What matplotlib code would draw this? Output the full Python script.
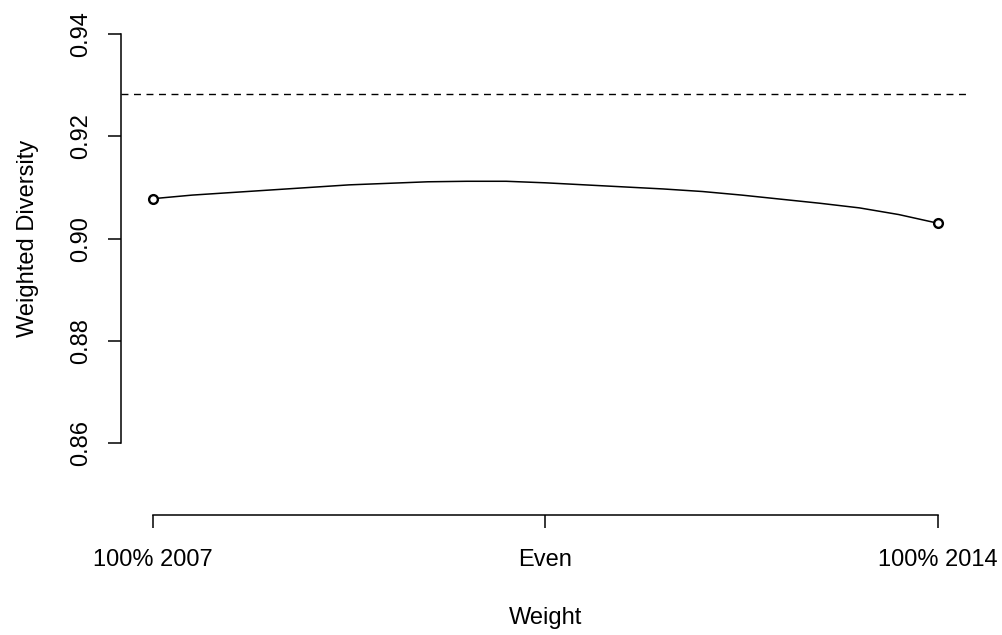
import matplotlib
matplotlib.use("Agg")
import matplotlib.pyplot as plt
import numpy as np

# weighted diversity as the weight shifts from 2007 to 2014
weights = [0.0, 0.05, 0.1, 0.15, 0.2, 0.25, 0.3, 0.35, 0.4, 0.45, 0.5,
           0.55, 0.6, 0.65, 0.7, 0.75, 0.8, 0.85, 0.9, 0.95, 1.0]
diversity = [0.9078, 0.9085, 0.9090, 0.9095, 0.9100, 0.9105, 0.9108, 0.9111, 0.9112, 0.9112, 0.9109,
             0.9105, 0.9101, 0.9097, 0.9092, 0.9085, 0.9077, 0.9069, 0.9060, 0.9047, 0.9030]
reference_level = 0.9283

end_weights = [0.0, 1.0]
end_diversity = [0.9078, 0.9030]

x_ticks = [0.0, 0.5, 1.0]
x_tick_labels = ["100% 2007", "Even", "100% 2014"]
y_ticks = [0.86, 0.88, 0.90, 0.92, 0.94]

plt.rcParams["font.family"] = ["Liberation Sans", "DejaVu Sans"]
plt.rcParams["font.size"] = 17

fig = plt.figure(figsize=(10.03, 6.35), dpi=100)
ax = fig.add_axes([0.1211, 0.1882, 0.8460, 0.8721])

ax.plot(weights, diversity, color="black", lw=1.1)
ax.plot(end_weights, end_diversity, linestyle="none", marker="o", ms=6.3,
        mfc="white", mec="black", mew=1.7)
ax.axhline(reference_level, color="black", lw=1.0, linestyle=(0, (5, 4)))

ax.set_xlim(-0.0401, 1.0408)
ax.set_ylim(0.8459, 0.9541)

for side in ["top", "right"]:
    ax.spines[side].set_visible(False)
ax.spines["left"].set_bounds(y_ticks[0], y_ticks[-1])
ax.spines["bottom"].set_bounds(x_ticks[0], x_ticks[-1])
for side in ["left", "bottom"]:
    ax.spines[side].set_linewidth(1.1)

ax.set_xticks(x_ticks, x_tick_labels)
ax.set_yticks(y_ticks, [f"{v:.2f}" for v in y_ticks])
ax.tick_params(axis="x", length=9.7, width=1.1, pad=14.2)
ax.tick_params(axis="y", length=9.7, width=1.1, pad=11.5)
for lab in ax.get_yticklabels():
    lab.set_rotation(90)
    lab.set_va("center")

ax.set_xlabel("Weight")
ax.set_ylabel("Weighted Diversity")
ax.xaxis.set_label_coords(0.5, -0.166)
ax.yaxis.set_label_coords(-0.0972, 0.5)

fig.savefig("out.png", dpi=100)
